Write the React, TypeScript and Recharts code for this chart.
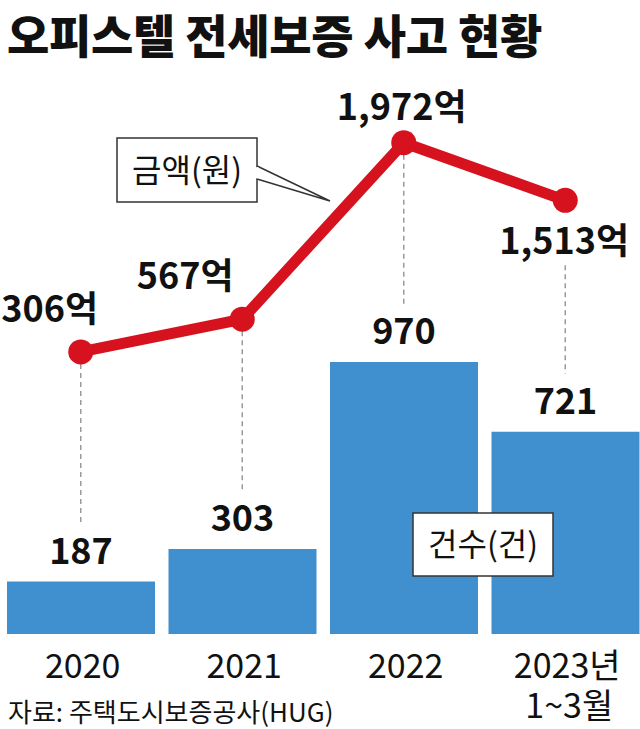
import React from 'react';
import {
  Bar,
  ComposedChart,
  LabelList,
  Line,
  XAxis,
  YAxis,
} from 'recharts';

const years = ['2020', '2021', '2022', '2023년\n1~3월'];
const counts = [187, 303, 970, 721];
const amounts = [306, 567, 1972, 1513];
const amountLabels = ['306억', '567억', '1,972억', '1,513억'];

const data = years.map((year, i) => ({
  year,
  count: counts[i],
  amount: amounts[i],
}));

const RED = '#d6121e';
const BLUE = '#4090d0';
const FONT = '"Noto Sans CJK KR", "Noto Sans", sans-serif';

// plot area geometry (matches chart margin / axis height below)
const PLOT_TOP = 100;
const PLOT_BOTTOM = 634;
const COUNT_MAX = 1904;

// text-centre offsets of the amount labels relative to each point
const labelOffsets = [
  [-31, -43],
  [-57, -43],
  [-2, -36],
  [-1, 41],
];

const YearTick = (props: any) => {
  const { x, y, payload } = props;
  const lines = String(payload.value).split('\n');
  return (
    <g>
      {lines.map((t, i) => (
        <text
          key={i}
          x={x + (i === 0 ? 2 : 4)}
          y={y + 44 + i * 40}
          textAnchor="middle"
          fontFamily={FONT}
          fontSize={34}
          fill="#111"
        >
          {t}
        </text>
      ))}
    </g>
  );
};

const AmountDot = (props: any) => {
  const { cx, cy, index, payload } = props;
  const barTop =
    PLOT_BOTTOM - (payload.count / COUNT_MAX) * (PLOT_BOTTOM - PLOT_TOP);
  const start = index === 3 ? cy + 65 : cy + 12;
  return (
    <g key={`dot-${index}`}>
      <line
        x1={cx}
        x2={cx}
        y1={start}
        y2={barTop - 58}
        stroke="#9a9a9a"
        strokeWidth={1.5}
        strokeDasharray="5 4"
      />
      <circle cx={cx} cy={cy} r={12.5} fill={RED} />
    </g>
  );
};

const AmountLabel = (props: any) => {
  const { x, y, index } = props;
  const [dx, dy] = labelOffsets[index];
  return (
    <text
      x={x + dx}
      y={y + dy + 13}
      textAnchor="middle"
      fontFamily={FONT}
      fontWeight={700}
      fontSize={36}
      fill="#111"
    >
      {amountLabels[index]}
    </text>
  );
};

const CountLabel = (props: any) => {
  const { x, y, width, value } = props;
  return (
    <text
      x={x + width / 2}
      y={y - 18}
      textAnchor="middle"
      fontFamily={FONT}
      fontWeight={700}
      fontSize={36}
      fill="#111"
    >
      {value}
    </text>
  );
};

const Callouts = () => (
  <svg
    width={640}
    height={729}
    style={{ position: 'absolute', left: 0, top: 0, pointerEvents: 'none' }}
  >
    <g fontFamily={FONT} fontSize={32} fill="#111">
      <rect x={117} y={138} width={140} height={64} fill="#fff" stroke="#333" strokeWidth={1.5} />
      <path d="M257 166 L330 201 L257 179" fill="#fff" stroke="#333" strokeWidth={1.5} />
      <rect x={255.5} y={167.2} width={3} height={11} fill="#fff" />
      <text x={187} y={182} textAnchor="middle">금액(원)</text>
      <rect x={413} y={513} width={140} height={63} fill="#fff" stroke="#333" strokeWidth={1.5} />
      <text x={483} y={556} textAnchor="middle">건수(건)</text>
    </g>
  </svg>
);

export default function App() {
  return (
    <div
      style={{
        position: 'absolute',
        left: 0,
        top: 0,
        width: 640,
        height: 729,
        overflow: 'hidden',
        background: '#fff',
        fontFamily: FONT,
      }}
    >
      <div
        style={{
          position: 'absolute',
          left: 7,
          top: 0,
          fontSize: 46,
          fontWeight: 900,
          color: '#111',
          letterSpacing: -0.3,
          whiteSpace: 'nowrap',
        }}
      >
        오피스텔 전세보증 사고 현황
      </div>
      <ComposedChart
        width={646}
        height={729}
        data={data}
        margin={{ top: PLOT_TOP, right: 0, bottom: 0, left: 0 }}
      >
        <XAxis
          dataKey="year"
          height={95}
          axisLine={false}
          tickLine={false}
          tickSize={0}
          tickMargin={0}
          interval={0}
          tick={<YearTick />}
        />
        <YAxis yAxisId="count" hide domain={[0, COUNT_MAX]} />
        <YAxis yAxisId="amount" hide domain={[-1940, 2312]} />
        <Bar
          dataKey="count"
          yAxisId="count"
          fill={BLUE}
          barSize={148}
          isAnimationActive={false}
        >
          <LabelList dataKey="count" content={<CountLabel />} />
        </Bar>
        <Line
          dataKey="amount"
          yAxisId="amount"
          stroke={RED}
          strokeWidth={11}
          dot={<AmountDot />}
          activeDot={false}
          label={<AmountLabel />}
          isAnimationActive={false}
        />
      </ComposedChart>
      <Callouts />
      <div
        style={{
          position: 'absolute',
          left: 8,
          top: 692,
          fontSize: 26,
          color: '#111',
          whiteSpace: 'nowrap',
        }}
      >
        자료: 주택도시보증공사(HUG)
      </div>
    </div>
  );
}
